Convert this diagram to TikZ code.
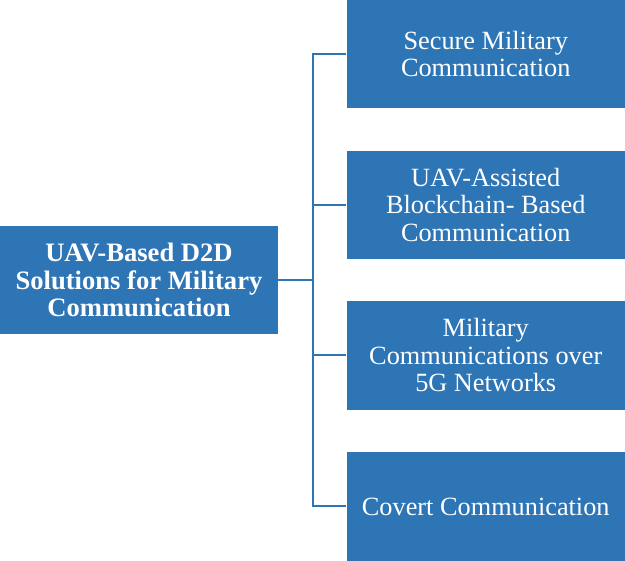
\documentclass[tikz,border=0pt]{standalone}
\usepackage{fontspec}
\setmainfont{Liberation Serif}
\definecolor{boxblue}{HTML}{2E75B6}
\begin{document}
\begin{tikzpicture}[x=1pt,y=-1pt,
  box/.style={fill=boxblue,draw=none,text=white,align=center,inner sep=0pt,
    font=\fontsize{26.3}{27.5}\selectfont},
  conn/.style={draw=boxblue,line width=2pt}]
\useasboundingbox (0,0) rectangle (625,561);
\node[box,minimum width=278pt,minimum height=108.5pt,font=\bfseries\fontsize{26.6}{27.5}\selectfont] (root) at (139,280) {UAV-Based D2D\\Solutions for Military\\Communication};
\node[box,minimum width=278.5pt,minimum height=108.5pt] (b1) at (485.75,54.25) {Secure Military\\Communication};
\node[box,minimum width=278.5pt,minimum height=108.5pt] (b2) at (485.75,205) {UAV-Assisted\\Blockchain- Based\\Communication};
\node[box,minimum width=278.5pt,minimum height=108.5pt] (b3) at (485.75,355.5) {Military\\Communications over\\5G Networks};
\node[box,minimum width=278.5pt,minimum height=108.5pt] (b4) at (485.75,506.5) {Covert Communication};
\coordinate (top) at (312.5,54.25);
\coordinate (bot) at (312.5,506.5);
\draw[conn] (root.east) -- (root.east -| top);
\draw[conn] (b1.west) -- (top) -- (bot) -- (b4.west);
\draw[conn] (b2.west) -- (b2.west -| top);
\draw[conn] (b3.west) -- (b3.west -| top);
\end{tikzpicture}
\end{document}
